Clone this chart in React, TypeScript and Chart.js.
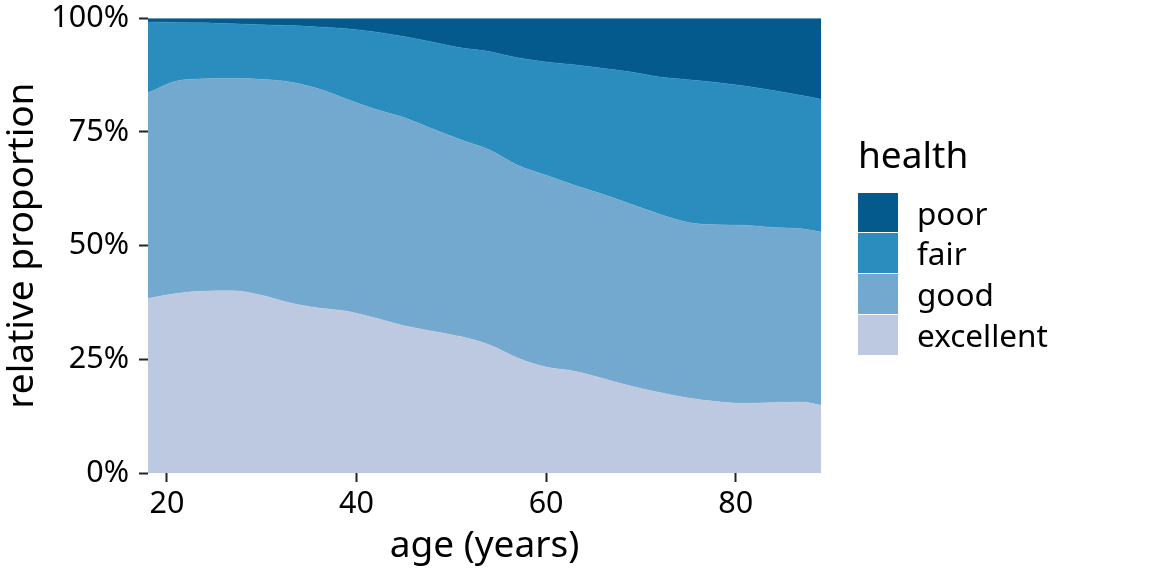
import React, { useEffect, useRef } from "react";
import { Chart, registerables } from "chart.js";

Chart.register(...registerables);

// ---- data (percent share of each health category by age) ----
const ages = [18, 21, 24, 27, 30, 33, 36, 39, 42, 45, 48, 51, 54, 57, 60, 63, 66, 69, 72, 75, 78, 81, 84, 87, 89];
const excellent = [38.4, 39.5, 40.0, 40.1, 39.1, 37.4, 36.3, 35.6, 34.1, 32.4, 31.2, 30.0, 28.2, 25.3, 23.3, 22.4, 20.8, 19.1, 17.7, 16.5, 15.7, 15.3, 15.5, 15.6, 14.9];
const good = [45.2, 46.7, 46.7, 46.7, 47.5, 48.6, 48.2, 46.6, 45.9, 45.8, 44.5, 43.3, 42.9, 42.4, 42.2, 40.9, 40.5, 40.0, 39.2, 38.6, 38.9, 39.2, 38.5, 38.1, 38.1];
const fair = [15.6, 12.9, 12.3, 12.0, 12.0, 12.4, 13.6, 15.5, 17.0, 17.8, 19.1, 20.2, 21.6, 23.6, 24.9, 26.5, 27.7, 29.1, 30.2, 31.4, 31.3, 30.6, 30.1, 29.3, 29.2];
const poor = [0.8, 0.9, 1.0, 1.2, 1.4, 1.6, 1.9, 2.3, 3.0, 4.0, 5.2, 6.5, 7.3, 8.7, 9.6, 10.2, 11.0, 11.8, 12.9, 13.5, 14.1, 14.9, 15.9, 17.0, 17.8];

const xTicks = [20, 40, 60, 80];
const yTicks = [0, 25, 50, 75, 100];

const seriesNames = ["excellent", "good", "fair", "poor"];
const seriesValues = [excellent, good, fair, poor];
const seriesColors = ["#bdc9e1", "#74a9cf", "#2b8cbe", "#045a8d"];

const legendOrder = ["poor", "fair", "good", "excellent"];

const FONT = "'Noto Sans', 'Open Sans', sans-serif";

export default function App() {
  const canvasRef = useRef<HTMLCanvasElement | null>(null);

  useEffect(() => {
    const canvas = canvasRef.current;
    if (!canvas) return;
    const datasets = seriesNames.map((name, si) => ({
      label: name,
      data: ages.map((a, i) => ({ x: a, y: seriesValues[si][i] })),
      backgroundColor: seriesColors[si],
      borderColor: seriesColors[si],
      borderWidth: 0.5,
      pointRadius: 0,
      tension: 0.4,
      cubicInterpolationMode: "monotone" as const,
      fill: si === 0 ? "origin" : "-1",
    }));

    const zeroPad = (s: any) => {
      s.paddingTop = 0;
      s.paddingBottom = 0;
      s.paddingLeft = 0;
      s.paddingRight = 0;
    };

    const chart = new Chart(canvas, {
      type: "line",
      data: { datasets },
      options: {
        animation: false,
        responsive: false,
        devicePixelRatio: 1,
        layout: { padding: { left: 0, top: 18.3, right: 331, bottom: 0 } },
        plugins: {
          legend: { display: false },
          tooltip: { enabled: false },
        },
        events: [],
        scales: {
          x: {
            type: "linear",
            min: 18,
            max: 89,
            afterBuildTicks: (s: any) => {
              s.ticks = xTicks.map((v) => ({ value: v }));
            },
            afterFit: (s: any) => {
              s.height = 103;
              zeroPad(s);
            },
            grid: {
              display: true,
              drawOnChartArea: false,
              drawTicks: true,
              tickLength: 9,
              tickWidth: 2,
              tickColor: "#222",
            },
            border: { display: false },
            ticks: {
              padding: 4,
              color: "#000",
              maxRotation: 0,
              font: { family: FONT, size: 30.5 },
            },
            title: {
              display: true,
              text: "age (years)",
              color: "#000",
              font: { family: FONT, size: 37 },
              padding: { top: 0, bottom: 7 },
            },
          },
          y: {
            type: "linear",
            stacked: true,
            min: 0,
            max: 100,
            afterBuildTicks: (s: any) => {
              s.ticks = yTicks.map((v) => ({ value: v }));
            },
            afterFit: (s: any) => {
              s.width = 148;
              zeroPad(s);
            },
            grid: {
              display: true,
              drawOnChartArea: false,
              drawTicks: true,
              tickLength: 9,
              tickWidth: 2,
              tickColor: "#222",
            },
            border: { display: false },
            ticks: {
              padding: 10,
              color: "#000",
              font: { family: FONT, size: 30.5 },
              callback: (v: any) => `${v}%`,
            },
            title: {
              display: true,
              text: "relative proportion",
              color: "#000",
              font: { family: FONT, size: 37 },
              padding: { top: 0, bottom: 0 },
            },
          },
        },
      },
    });
    return () => chart.destroy();
  }, []);

  const keyTop = 192.7;
  const keyH = 40.75;

  return (
    <div style={{ position: "fixed", left: 0, top: 0, width: 1152, height: 576, background: "#fff" }}>
      <canvas ref={canvasRef} width={1152} height={576} style={{ position: "absolute", left: 0, top: 0, width: 1152, height: 576 }} />
      <div
        style={{
          position: "absolute",
          left: 858,
          top: 134.5,
          fontFamily: FONT,
          fontSize: 37,
          lineHeight: "37px",
          color: "#000",
          whiteSpace: "nowrap",
        }}
      >
        health
      </div>
      {legendOrder.map((name, i) => {
        const idx = seriesNames.indexOf(name);
        return (
          <React.Fragment key={name}>
            <div
              style={{
                position: "absolute",
                left: 858,
                top: keyTop + i * keyH,
                width: 40,
                height: keyH - 1,
                background: seriesColors[idx],
              }}
            />
            <div
              style={{
                position: "absolute",
                left: 917,
                top: keyTop + i * keyH,
                height: keyH,
                lineHeight: `${keyH}px`,
                fontFamily: FONT,
                fontSize: 31.5,
                color: "#000",
                whiteSpace: "nowrap",
              }}
            >
              {name}
            </div>
          </React.Fragment>
        );
      })}
    </div>
  );
}
